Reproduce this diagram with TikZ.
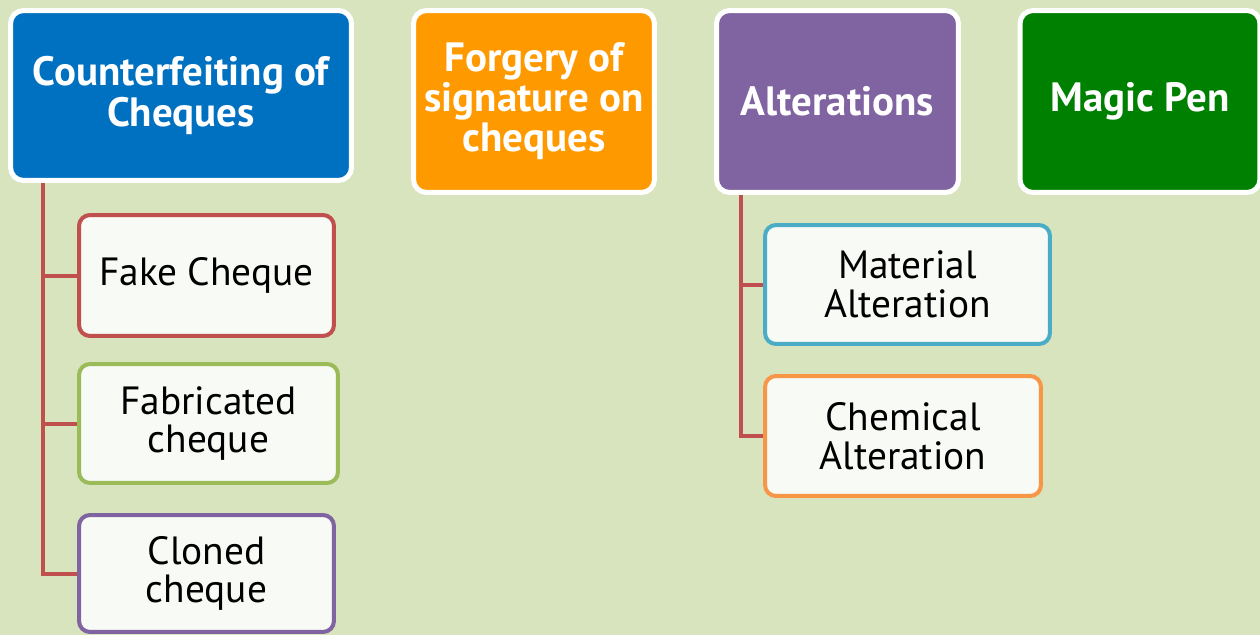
\documentclass[tikz,border=0pt]{standalone}
\usepackage{fontspec}
\setmainfont{PT Sans}
\definecolor{bgcol}{HTML}{D7E4BD}
\definecolor{catblue}{HTML}{0070C0}
\definecolor{catorange}{HTML}{FF9900}
\definecolor{catpurple}{HTML}{8064A2}
\definecolor{catgreen}{HTML}{008000}
\definecolor{leafred}{HTML}{C0504D}
\definecolor{leafgreen}{HTML}{9BBB59}
\definecolor{leafpurple}{HTML}{8064A2}
\definecolor{leafblue}{HTML}{4BACC6}
\definecolor{leaforange}{HTML}{F79646}
\definecolor{leaffill}{HTML}{F8FAF5}
\begin{document}
\begin{tikzpicture}[x=0.02cm,y=-0.02cm,
  catbox/.style={draw=white, line width=0.1cm, rounded corners=0.26cm,
    text=white, align=center, inner sep=0pt,
    font=\fontsize{23.3}{22.8}\selectfont\bfseries},
  leafbox/.style={line width=0.08cm, rounded corners=0.22cm, fill=leaffill,
    text=black, align=center, inner sep=0pt,
    font=\fontsize{22.4}{21.9}\selectfont},
  branch/.style={draw=leafred, line width=0.08cm, line join=miter}]
  % background
  \fill[bgcol] (0,0) rectangle (1260,635);
  \useasboundingbox (0,0) rectangle (1260,635);

  % category boxes
  \node[catbox, fill=catblue, minimum width=6.82cm, minimum height=3.40cm]
    (cnt) at (181,95.5) {Counterfeiting of\\Cheques};
  \node[catbox, fill=catorange, minimum width=4.82cm, minimum height=3.64cm]
    (frg) at (534,101.5) {Forgery of\\signature on\\cheques};
  \node[catbox, fill=catpurple, minimum width=4.84cm, minimum height=3.64cm]
    (alt) at (837.5,101.5) {Alterations};
  \node[catbox, fill=catgreen, minimum width=4.80cm, minimum height=3.64cm]
    (mag) at (1140,101.5) {Magic Pen};

  % leaves under counterfeiting
  \node[leafbox, draw=leafred, minimum width=5.10cm, minimum height=2.42cm]
    (fake) at (206.5,275.5) {Fake Cheque};
  \node[leafbox, draw=leafgreen, minimum width=5.18cm, minimum height=2.38cm]
    (fab) at (208.5,423.5) {Fabricated\\cheque};
  \node[leafbox, draw=leafpurple, minimum width=5.10cm, minimum height=2.34cm]
    (clone) at (206.5,573.5) {Cloned\\cheque};

  % leaves under alterations
  \node[leafbox, draw=leafblue, minimum width=5.70cm, minimum height=2.38cm]
    (mat) at (907.5,284.5) {Material\\Alteration};
  \node[leafbox, draw=leaforange, minimum width=5.52cm, minimum height=2.40cm]
    (chem) at (903,436) {Chemical\\Alteration};

  % branch lines
  \coordinate (cntroot) at (cnt.south -| 43,0);
  \coordinate (altroot) at (alt.south -| 741,0);
  \draw[branch] (cntroot) |- (fake.west);
  \draw[branch] (cntroot) |- (fab.west);
  \draw[branch] (cntroot) |- (clone.west);
  \draw[branch] (altroot) |- (mat.west);
  \draw[branch] (altroot) |- (chem.west);
\end{tikzpicture}
\end{document}
